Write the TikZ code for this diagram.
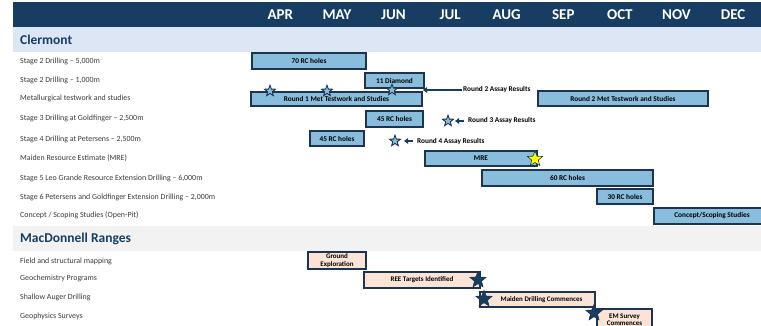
\documentclass[tikz,border=0pt]{standalone}
\usepackage{fontspec}
\setmainfont{Carlito}
\usetikzlibrary{shapes.geometric,arrows.meta}

\definecolor{headnavy}{HTML}{173D63}
\definecolor{edgenavy}{HTML}{1C3452}
\definecolor{barblue}{HTML}{88BDDC}
\definecolor{bandblue}{HTML}{DCE6F5}
\definecolor{bandgrey}{HTML}{F2F2F2}
\definecolor{peach}{HTML}{FBE4D5}
\definecolor{labelgrey}{HTML}{3A3A3A}
\definecolor{staryellow}{HTML}{FFFF00}

\tikzset{
  month/.style={text=white, font=\bfseries\fontsize{15}{16}\selectfont, inner sep=0},
  section/.style={text=headnavy, font=\bfseries\fontsize{13.5}{15}\selectfont, anchor=west, inner sep=0},
  rowlabel/.style={text=labelgrey, font=\fontsize{7.9}{9}\selectfont, anchor=west, inner sep=0},
  bar/.style={draw=edgenavy, line width=1.2pt, fill=barblue, inner sep=0,
    font=\bfseries\fontsize{7.3}{8}\selectfont, align=center},
  pbar/.style={bar, fill=peach, font=\bfseries\fontsize{7}{7.4}\selectfont},
  note/.style={font=\bfseries\fontsize{7.3}{8}\selectfont, anchor=west, inner sep=0},
  mstar/.style={star, star points=5, star point ratio=2.4, draw=edgenavy,
    line width=0.9pt, fill=barblue, minimum size=11.5pt, inner sep=0},
  bigstar/.style={star, star points=5, star point ratio=2.3, draw=edgenavy,
    line width=0.6pt, fill=headnavy, minimum size=17pt, inner sep=0},
  goldstar/.style={bigstar, fill=staryellow, minimum size=16pt},
  pointer/.style={draw=headnavy, line width=2.2pt, -{Triangle[length=4pt,width=5.5pt]}},
}

\begin{document}
\begin{tikzpicture}[x=1pt,y=-1pt]
\useasboundingbox (0,0) rectangle (761,326);
\clip (0,0) rectangle (761,326);

% month header
\fill[headnavy] (13,2) rectangle (761,27);
\foreach \m [count=\i from 0] in {APR,MAY,JUN,JUL,AUG,SEP,OCT,NOV,DEC}
  \node[month] (m\i) at ({280.3+56.6*\i},14.5) {\m};

% section bands
\fill[bandblue] (13,27) rectangle (761,52);
\node[section] (clermont) at (20,39.5) {Clermont};
\fill[bandgrey] (13,226) rectangle (761,251);
\node[section] (macd) at (20,238.5) {MacDonnell Ranges};

% Clermont activity labels
\node[rowlabel] (l1) at (20,61) {Stage 2 Drilling – 5,000m};
\node[rowlabel] (l2) at (20,80) {Stage 2 Drilling – 1,000m};
\node[rowlabel] (l3) at (20,98.5) {Metallurgical testwork and studies};
\node[rowlabel] (l4) at (20,118.5) {Stage 3 Drilling at Goldfinger – 2,500m};
\node[rowlabel] (l5) at (20,139) {Stage 4 Drilling at Petersens – 2,500m};
\node[rowlabel] (l6) at (20,158) {Maiden Resource Estimate (MRE)};
\node[rowlabel] (l7) at (20,178) {Stage 5 Leo Grande Resource Extension Drilling – 6,000m};
\node[rowlabel] (l8) at (20,197) {Stage 6 Petersens and Goldfinger Extension Drilling – 2,000m};
\node[rowlabel] (l9) at (20,215.5) {Concept / Scoping Studies (Open-Pit)};

% MacDonnell activity labels
\node[rowlabel] (k1) at (20,261) {Field and structural mapping};
\node[rowlabel] (k2) at (20,278.5) {Geochemistry Programs};
\node[rowlabel] (k3) at (20,297.5) {Shallow Auger Drilling};
\node[rowlabel] (k4) at (20,316.5) {Geophysics Surveys};

% Clermont bars
\node[bar, minimum width=114pt, minimum height=16pt] (rc70) at (309,61) {70 RC holes};
\node[bar, minimum width=59pt, minimum height=15pt] (dia) at (394.5,80.5) {11 Diamond};
\node[bar, minimum width=171pt, minimum height=14pt] (met1) at (336.5,99) {Round 1 Met Testwork and Studies};
\node[bar, minimum width=170pt, minimum height=15pt] (met2) at (623,98.5) {Round 2 Met Testwork and Studies};
\node[bar, minimum width=57pt, minimum height=16pt] (gold) at (394.5,119) {45 RC holes};
\node[bar, minimum width=54pt, minimum height=15pt] (pet) at (337,138.5) {45 RC holes};
\node[bar, minimum width=112pt, minimum height=15pt] (mre) at (481,158.5) {MRE};
\node[bar, minimum width=171pt, minimum height=16pt] (rc60) at (567.5,178) {60 RC holes};
\node[bar, minimum width=56pt, minimum height=15pt] (rc30) at (625,196.5) {30 RC holes};
\node[bar, minimum width=116pt, minimum height=16pt] (scope) at (712,216) {Concept/Scoping Studies};

% assay milestones
\node[mstar] (s1) at (270,91) {};
\node[mstar] (s2) at (327,91) {};
\node[mstar] (s3) at (392,90) {};
\node[note] (a2) at (463,90) {Round 2 Assay Results};
\coordinate (a2tip) at (423,90);
\draw[pointer] (a2.west) ++(-1,0) -- (a2tip);

\node[mstar] (s4) at (448,121) {};
\node[note] (a3) at (468,121) {Round 3 Assay Results};
\coordinate (a3tip) at (455,121);
\draw[pointer] (a3.west) ++(-4,0) -- (a3tip);

\node[mstar] (s5) at (395,141) {};
\node[note] (a4) at (417,142) {Round 4 Assay Results};
\coordinate (a4tip) at (404,141);
\draw[pointer] (a4.west) ++(-4,-1) -- (a4tip);

\node[goldstar] (mrestar) at (535,159) {};

% MacDonnell bars
\node[pbar, minimum width=58pt, minimum height=17pt] (ground) at (337,260.5) {Ground\\Exploration};
\node[pbar, minimum width=116pt, minimum height=16pt] (ree) at (422,280) {REE Targets Identified};
\node[pbar, minimum width=115pt, minimum height=15pt] (drill) at (537.5,299.5) {\hspace{8pt}Maiden Drilling Commences};
\node[pbar, minimum width=55pt, minimum height=21pt] (em) at (624.5,319.5) {EM Survey\\Commences};

\node[bigstar] (reestar) at (478,280) {};
\node[bigstar] (drillstar) at (484,299) {};
\node[bigstar] (emstar) at (594,313) {};
\end{tikzpicture}
\end{document}
